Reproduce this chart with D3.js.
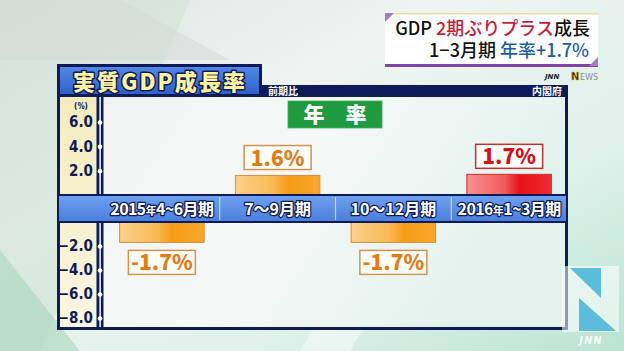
<!DOCTYPE html>
<html>
<head>
<meta charset="utf-8">
<script src="https://cdn.jsdelivr.net/npm/d3@7"></script>
<style>
html, body { margin: 0; padding: 0; background: #dfeee8; }
svg { display: block; }
</style>
</head>
<body>
<div id="chart"></div>
<script>
// values
const categories = ["2015年4~6月期", "7～9月期", "10～12月期", "2016年1~3月期"];
const values = [-1.7, 1.6, -1.7, 1.7];
const valueLabels = ["-1.7%", "1.6%", "-1.7%", "1.7%"];
const posTicks = [6.0, 4.0, 2.0];
const negTicks = [-2.0, -4.0, -6.0, -8.0];
const latest = "2016年1~3月期"; // drawn in red

const width = 624, height = 351;
const jp = "'Noto Sans CJK JP', 'Noto Sans', sans-serif";
const navy = "#0f1b56";

const svg = d3.select("#chart").append("svg")
    .attr("width", width)
    .attr("height", height)
    .attr("viewBox", [0, 0, width, height]);

const defs = svg.append("defs");

function gradient(id, stops, x2 = 1, y2 = 0) {
    const g = defs.append("linearGradient").attr("id", id)
        .attr("x1", 0).attr("y1", 0).attr("x2", x2).attr("y2", y2);
    stops.forEach(([o, c]) => g.append("stop").attr("offset", o).attr("stop-color", c));
}
gradient("bg", [[0, "#dde3e0"], [0.35, "#eef4f1"], [0.7, "#dff1ea"], [1, "#b9e3d3"]], 1, 1);
gradient("inner", [[0, "#f1f3f2"], [0.5, "#f5f8f7"], [1, "#e2f3ee"]], 1, 0.3);
gradient("yellow", [[0, "#f4ebbd"], [1, "#faf6e2"]], 0, 1);
gradient("band", [[0, "#6e9ff0"], [1, "#4a7fdc"]], 0, 1);
gradient("titleBox", [[0, "#5287e6"], [1, "#2f62c8"]], 0, 1);
gradient("barOrange", [[0, "#fcd08c"], [0.45, "#f9b955"], [0.62, "#f59c16"], [1, "#f7a62c"]]);
gradient("barRed", [[0, "#f69090"], [0.45, "#f25c5c"], [0.62, "#e5101a"], [1, "#ee2c30"]]);

// background
svg.append("rect").attr("width", width).attr("height", height).attr("fill", "url(#bg)");
svg.append("path").attr("d", "M0,0L190,0L40,351L0,351Z").attr("fill", "#cfe2d6").attr("opacity", 0.6);
svg.append("path").attr("d", "M0,0L120,0L230,60L0,60Z").attr("fill", "#d3d8d5").attr("opacity", 0.5);
svg.append("path").attr("d", "M300,351L330,300L380,300L350,351Z").attr("fill", "#ffffff").attr("opacity", 0.45);
svg.append("path").attr("d", "M0,351L0,250L80,351Z").attr("fill", "#a8d6bb").attr("opacity", 0.6);

// panel frame
svg.append("rect").attr("x", 57).attr("y", 85).attr("width", 511).attr("height", 245).attr("fill", navy);
svg.append("rect").attr("x", 60).attr("y", 97).attr("width", 505).attr("height", 230).attr("fill", "url(#inner)");
svg.append("rect").attr("x", 60).attr("y", 97).attr("width", 37).attr("height", 230).attr("fill", "url(#yellow)");

// title box
svg.append("rect").attr("x", 57).attr("y", 64).attr("width", 205).attr("height", 33).attr("fill", navy);
svg.append("rect").attr("x", 60).attr("y", 67).attr("width", 199).attr("height", 27).attr("fill", "url(#titleBox)");
svg.append("text")
    .attr("x", 159).attr("y", 90)
    .attr("text-anchor", "middle")
    .attr("font-family", jp).attr("font-weight", 900).attr("font-size", 22)
    .attr("textLength", 172).attr("lengthAdjust", "spacing")
    .attr("fill", "#fff3a0").attr("stroke", navy).attr("stroke-width", 3)
    .attr("paint-order", "stroke").attr("stroke-linejoin", "round")
    .text("実質GDP成長率");

svg.append("text").attr("x", 268).attr("y", 95)
    .attr("font-family", jp).attr("font-weight", 700).attr("font-size", 10)
    .attr("fill", "#fff").text("前期比");
svg.append("text").attr("x", 562).attr("y", 95).attr("text-anchor", "end")
    .attr("font-family", jp).attr("font-weight", 700).attr("font-size", 10)
    .attr("fill", "#fff").text("内閣府");

// scales: the category band splits the value axis at zero
const x = d3.scaleBand().domain(categories).range([104, 567]).paddingInner(0.27).paddingOuter(0.135);
const yPos = d3.scaleLinear().domain([0, 6]).range([195, 122]);
const yNeg = d3.scaleLinear().domain([0, -8]).range([222, 318]);

// axis line
svg.append("rect").attr("x", 96.5).attr("y", 97).attr("width", 7).attr("height", 230).attr("fill", navy);
svg.append("rect").attr("x", 99.3).attr("y", 97).attr("width", 1.6).attr("height", 230).attr("fill", "#e8ecf0");

svg.append("text").attr("x", 81).attr("y", 109).attr("text-anchor", "middle")
    .attr("font-family", "'DejaVu Sans Condensed', 'DejaVu Sans', sans-serif")
    .attr("font-weight", 700).attr("font-size", 8).attr("fill", navy).text("(%)");

function drawAxis(scale, ticks) {
    const g = svg.append("g")
        .attr("transform", "translate(100,0)")
        .call(d3.axisLeft(scale).tickValues(ticks).tickFormat(d3.format(".1f")).tickSize(0).tickPadding(7));
    g.select(".domain").remove();
    g.selectAll(".tick text")
        .attr("font-family", "'DejaVu Sans Condensed', 'DejaVu Sans', sans-serif")
        .attr("font-weight", 700).attr("font-size", 15).attr("fill", navy);
    g.selectAll(".tick").append("circle").attr("r", 2.3).attr("fill", "#fff");
}
drawAxis(yPos, posTicks);
drawAxis(yNeg, negTicks);

// "年率" badge
svg.append("rect").attr("x", 288).attr("y", 101).attr("width", 94).attr("height", 27)
    .attr("fill", "#1f9a3e").attr("stroke", "#3bb55a").attr("stroke-width", 0.8);
svg.append("text").attr("x", 335).attr("y", 122).attr("text-anchor", "middle")
    .attr("font-family", jp).attr("font-weight", 900).attr("font-size", 21)
    .attr("fill", "#fff").text("年　率");

// bars
const rows = categories.map((c, i) => ({ cat: c, value: values[i], label: valueLabels[i] }));

const bar = svg.append("g").selectAll("g").data(rows).join("g");

bar.append("rect")
    .attr("x", d => x(d.cat))
    .attr("width", x.bandwidth())
    .attr("y", d => d.value >= 0 ? yPos(d.value) : yNeg(0))
    .attr("height", d => d.value >= 0 ? yPos(0) - yPos(d.value) : yNeg(d.value) - yNeg(0))
    .attr("fill", d => d.cat === latest ? "url(#barRed)" : "url(#barOrange)")
    .attr("stroke", d => d.cat === latest ? "#d42a2a" : "#d98c36")
    .attr("stroke-width", 1);

const boxW = 67, boxH = 24;
const boxY = d => d.value >= 0 ? yPos(d.value) - 6 - boxH : yNeg(d.value) + 8;

bar.append("rect")
    .attr("x", d => x(d.cat) + x.bandwidth() / 2 - boxW / 2)
    .attr("y", boxY)
    .attr("width", boxW).attr("height", boxH)
    .attr("fill", "#fffdf9")
    .attr("stroke", d => d.cat === latest ? "#c43030" : "#d3934a")
    .attr("stroke-width", 1.5);

bar.append("text")
    .attr("x", d => x(d.cat) + x.bandwidth() / 2)
    .attr("y", d => boxY(d) + 20)
    .attr("text-anchor", "middle")
    .attr("font-family", jp).attr("font-weight", 900).attr("font-size", 21)
    .attr("fill", d => d.cat === latest ? "#d3101c" : "#e27c18")
    .text(d => d.label);

// category band
svg.append("rect").attr("x", 57).attr("y", 194).attr("width", 511).attr("height", 29).attr("fill", navy);
svg.append("rect").attr("x", 59).attr("y", 196).attr("width", 507).attr("height", 25).attr("fill", "url(#band)");

svg.append("g").selectAll("line").data(categories.slice(1)).join("line")
    .attr("x1", d => x(d) - x.step() * x.paddingInner() / 2)
    .attr("x2", d => x(d) - x.step() * x.paddingInner() / 2)
    .attr("y1", 197).attr("y2", 220)
    .attr("stroke", "#d8e6ff").attr("stroke-width", 1.2).attr("opacity", 0.8);

const catText = svg.append("g").selectAll("text").data(categories).join("text")
    .attr("x", d => x(d) + x.bandwidth() / 2)
    .attr("y", 215)
    .attr("text-anchor", "middle")
    .attr("font-family", jp).attr("font-weight", 700).attr("font-size", 16)
    .attr("fill", "#fff").attr("stroke", navy).attr("stroke-width", 2.5)
    .attr("paint-order", "stroke").attr("stroke-linejoin", "round");

catText.each(function (d) {
    const t = d3.select(this);
    const parts = d.split("年");
    if (parts.length === 2) {
        t.attr("letter-spacing", -0.6);
        t.append("tspan").text(parts[0]);
        t.append("tspan").attr("font-size", 11).text("年");
        t.append("tspan").text(parts[1]);
    } else {
        t.text(d);
    }
});

// headline box, top right
const head = svg.append("g");
head.append("rect").attr("x", 385).attr("y", 13).attr("width", 213).attr("height", 54).attr("fill", "#fff");
head.append("rect").attr("x", 385).attr("y", 13).attr("width", 213).attr("height", 1.5).attr("fill", "#e8dca0");
head.append("rect").attr("x", 385).attr("y", 64).attr("width", 213).attr("height", 3).attr("fill", "#7d45a8");
head.append("path").attr("d", "M385,13L394,13L385,22Z").attr("fill", "#a47ccc");
head.append("path").attr("d", "M598,57L598,66L589,66Z").attr("fill", "#a47ccc");

const line1 = head.append("text").attr("x", 590).attr("y", 35).attr("text-anchor", "end")
    .attr("font-family", jp).attr("font-weight", 500).attr("font-size", 18).attr("fill", "#111");
line1.append("tspan").text("GDP ");
line1.append("tspan").attr("fill", "#c61f3e").text("2期ぶりプラス");
line1.append("tspan").text("成長");

const line2 = head.append("text").attr("x", 589).attr("y", 57).attr("text-anchor", "end")
    .attr("font-family", jp).attr("font-weight", 500).attr("font-size", 18).attr("fill", "#111");
line2.append("tspan").text("1−3月期 ");
line2.append("tspan").attr("fill", "#1c5daa").text("年率+1.7%");

// JNN NEWS mark
svg.append("text").attr("x", 545).attr("y", 79)
    .attr("font-family", "'DejaVu Sans', sans-serif").attr("font-weight", 700)
    .attr("font-style", "italic").attr("font-size", 7).attr("fill", "#222").text("JNN");
svg.append("text").attr("x", 571).attr("y", 80)
    .attr("font-family", "'DejaVu Sans', sans-serif").attr("font-weight", 700)
    .attr("font-size", 10).attr("fill", "#2a2500").attr("stroke", "#d9b800").attr("stroke-width", 0.5)
    .text("N");
svg.append("text").attr("x", 580).attr("y", 80)
    .attr("font-family", "'DejaVu Sans Condensed', 'DejaVu Sans', sans-serif")
    .attr("font-size", 9).attr("fill", "#8c8c8c").text("EWS");

// big N logo, bottom right
svg.append("rect").attr("x", 562).attr("y", 266).attr("width", 57).attr("height", 66)
    .attr("fill", "#ffffff").attr("opacity", 0.55);
svg.append("path").attr("d", "M570,268L601,268L601,298Z").attr("fill", "#5bbdd9");
svg.append("path").attr("d", "M579,298L579,331L616,331Z").attr("fill", "#5bbdd9");
svg.append("text").attr("x", 591).attr("y", 344).attr("text-anchor", "middle")
    .attr("font-family", "'DejaVu Sans', sans-serif").attr("font-weight", 700)
    .attr("font-style", "italic").attr("font-size", 10).attr("letter-spacing", 1)
    .attr("fill", "#ffffff").attr("opacity", 0.9).text("JNN");
</script>
</body>
</html>
